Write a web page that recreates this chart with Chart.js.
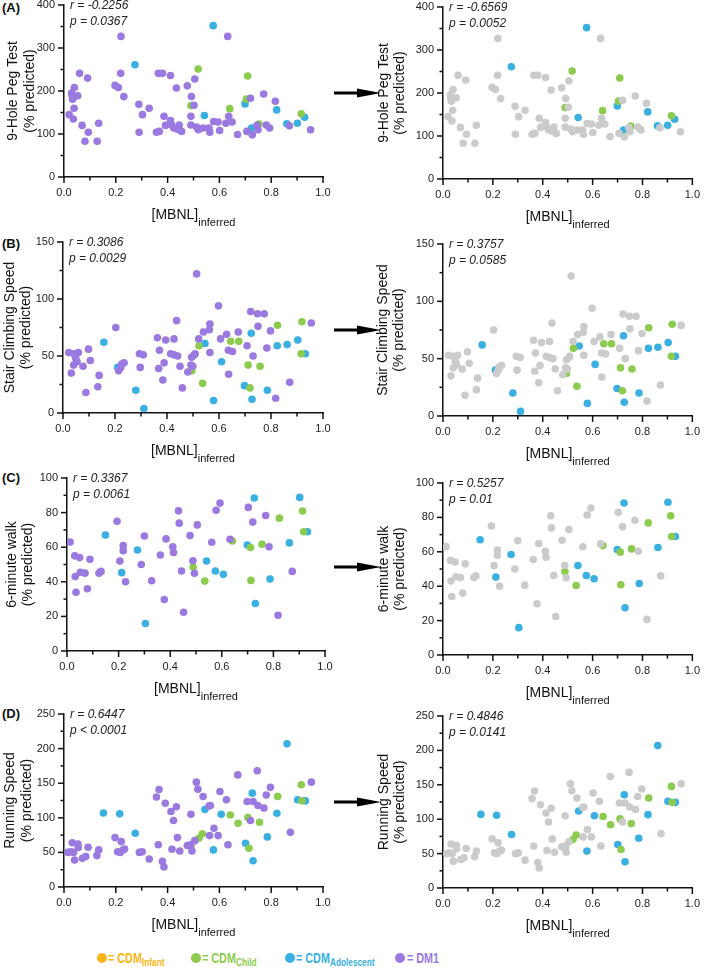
<!DOCTYPE html>
<html>
<head>
<meta charset="utf-8">
<script src="https://cdn.jsdelivr.net/npm/chart.js@4.4.0/dist/chart.umd.min.js"></script>
<style>
  body { margin: 0; width: 709px; height: 970px; position: relative; background: #fff; overflow: hidden;
         font-family: "Liberation Sans", Arial, Helvetica, sans-serif; }
  canvas { position: absolute; }
  .tag { position: absolute; left: 2px; font-weight: bold; font-size: 13px; line-height: 14px; color: #111; }
  .arrow { position: absolute; left: 334px; }
  .dot { position: absolute; width: 10px; height: 10px; border-radius: 50%; top: 953px; }
  .leg { position: absolute; top: 950px; font-size: 15px; line-height: 15px; font-weight: bold; white-space: nowrap;
         transform: scaleX(0.72); transform-origin: 0 50%; }
  .leg span { font-size: 11.5px; vertical-align: -3px; }
</style>
</head>
<body>

<div class="tag" style="top:1px">(A)</div>
<div class="tag" style="top:237px">(B)</div>
<div class="tag" style="top:471px">(C)</div>
<div class="tag" style="top:707px">(D)</div>

<svg class="arrow" style="top:86px" width="50" height="14"><path d="M0 5.6 H23 V2.5 L47 7 L23 11.5 V8.4 H0 Z" fill="#000"/></svg>
<svg class="arrow" style="top:323px" width="50" height="14"><path d="M0 5.6 H23 V2.5 L47 7 L23 11.5 V8.4 H0 Z" fill="#000"/></svg>
<svg class="arrow" style="top:560px" width="50" height="14"><path d="M0 5.6 H23 V2.5 L47 7 L23 11.5 V8.4 H0 Z" fill="#000"/></svg>
<svg class="arrow" style="top:795px" width="50" height="14"><path d="M0 5.6 H23 V2.5 L47 7 L23 11.5 V8.4 H0 Z" fill="#000"/></svg>

<div class="dot" style="left:97px;background:#fdb515"></div>
<div class="leg" style="left:108px;color:#fdb515">= CDM<span>Infant</span></div>
<div class="dot" style="left:191px;background:#8ccb4e"></div>
<div class="leg" style="left:202px;color:#8ccb4e">= CDM<span>Child</span></div>
<div class="dot" style="left:285px;background:#3ab0e2"></div>
<div class="leg" style="left:296px;color:#3ab0e2">= CDM<span>Adolescent</span></div>
<div class="dot" style="left:395px;background:#9a79e0"></div>
<div class="leg" style="left:407px;color:#9a79e0">= DM1</div>

<script>
// ---- data: [MBNL]inferred vs % predicted ----
const pegDM1 = [[0.02,145],[0.03,196],[0.04,208],[0.06,241],[0.03,191],[0.033,181],[0.04,187],[0.053,189],[0.039,160],[0.036,135],[0.07,120],[0.094,104],[0.081,83],[0.091,230],[0.128,83],[0.134,125],[0.197,213],[0.21,208],[0.22,327],[0.219,241],[0.231,187],[0.289,169],[0.29,104],[0.303,145],[0.329,160],[0.357,104],[0.368,106],[0.364,241],[0.38,241],[0.386,141],[0.392,120],[0.411,236],[0.411,131],[0.416,121],[0.424,114],[0.434,207],[0.438,111],[0.445,121],[0.454,106],[0.476,212],[0.49,141],[0.492,187],[0.49,121],[0.502,167],[0.505,228],[0.512,116],[0.519,110],[0.537,114],[0.56,114],[0.563,104],[0.578,129],[0.595,128],[0.601,108],[0.625,125],[0.632,327],[0.636,141],[0.649,128],[0.67,99],[0.706,106],[0.72,183],[0.727,98],[0.745,120],[0.749,110],[0.771,193],[0.781,121],[0.794,114],[0.816,176],[0.87,119],[0.952,110]];
const pegChild = [[0.518,251],[0.49,166],[0.709,235],[0.704,181],[0.64,159],[0.753,123],[0.916,147]];
const pegAdol = [[0.576,352],[0.274,261],[0.542,143],[0.699,170],[0.724,114],[0.821,156],[0.86,124],[0.901,125],[0.929,139]];

const stairDM1 = [[0.022,53],[0.041,52],[0.059,53],[0.049,48],[0.054,45],[0.041,42],[0.032,35],[0.077,41],[0.098,56],[0.105,46],[0.088,18],[0.134,23],[0.139,33],[0.203,75],[0.214,37],[0.222,40],[0.226,43],[0.235,44],[0.294,52],[0.297,40],[0.309,51],[0.363,66],[0.371,55],[0.368,39],[0.384,29],[0.389,44],[0.395,64],[0.414,52],[0.427,65],[0.427,51],[0.437,81],[0.441,50],[0.45,41],[0.459,22],[0.48,36],[0.492,42],[0.495,49],[0.499,41],[0.505,51],[0.508,52],[0.514,122],[0.522,65],[0.54,71],[0.563,73],[0.565,78],[0.565,53],[0.598,94],[0.606,65],[0.629,69],[0.636,55],[0.637,34],[0.652,54],[0.674,71],[0.708,59],[0.722,89],[0.731,50],[0.748,87],[0.75,76],[0.774,87],[0.784,57],[0.798,72],[0.818,13],[0.872,27],[0.955,79]];
const stairChild = [[0.523,59],[0.495,37],[0.537,26],[0.645,63],[0.676,63],[0.712,42],[0.719,22],[0.758,41],[0.825,77],[0.919,80],[0.916,52]];
const stairAdol = [[0.157,62],[0.28,20],[0.311,4],[0.546,61],[0.579,11],[0.61,45],[0.698,24],[0.724,70],[0.727,12],[0.786,20],[0.824,59],[0.862,60],[0.903,64],[0.932,52],[0.21,40]];

const walkDM1 = [[0.012,63],[0.03,55],[0.049,54],[0.032,43],[0.035,34],[0.052,45.5],[0.07,45],[0.079,36],[0.089,53],[0.124,45],[0.132,46],[0.194,75],[0.205,52],[0.218,61],[0.218,58],[0.227,40],[0.288,50],[0.3,66.5],[0.328,40.6],[0.362,55.5],[0.377,29.8],[0.384,64.8],[0.41,60.3],[0.413,56.9],[0.432,81],[0.435,73.9],[0.444,46.2],[0.452,22.4],[0.477,66.7],[0.488,52.2],[0.494,44.9],[0.505,72.9],[0.561,62.9],[0.578,81.4],[0.593,85.5],[0.632,64.6],[0.703,83],[0.72,74.5],[0.77,78.3],[0.783,60.3],[0.818,20.7],[0.873,46]];
const walkChild = [[0.489,48.5],[0.534,40.4],[0.641,63.6],[0.711,59.8],[0.713,40.8],[0.756,61.7],[0.823,76.8],[0.913,80.9],[0.917,68.9]];
const walkAdol = [[0.149,67],[0.212,45.3],[0.273,58.4],[0.304,15.9],[0.541,52],[0.575,46.2],[0.606,44.3],[0.699,61.3],[0.726,88.4],[0.73,27.5],[0.787,41.6],[0.862,62.5],[0.902,88.8],[0.932,68.9]];

const runDM1 = [[0.015,50],[0.026,51],[0.032,64],[0.037,50],[0.041,39],[0.054,62],[0.055,57],[0.071,41.5],[0.084,44],[0.093,57.4],[0.127,45.4],[0.134,53.6],[0.197,71.4],[0.207,51],[0.217,50],[0.221,65.6],[0.228,53.6],[0.234,55],[0.291,50],[0.302,51],[0.329,40.5],[0.357,130],[0.367,141],[0.364,61],[0.38,37],[0.386,29],[0.391,121],[0.413,109],[0.417,54.5],[0.423,96],[0.434,116],[0.438,71.4],[0.447,52],[0.476,60],[0.489,61],[0.49,105],[0.494,52],[0.511,151.5],[0.517,141.4],[0.505,67],[0.537,130.8],[0.56,117],[0.565,117.8],[0.562,74.3],[0.579,85],[0.595,74.3],[0.602,138],[0.627,126],[0.633,61],[0.671,162],[0.707,123.5],[0.72,96],[0.73,123.5],[0.746,168],[0.749,117.8],[0.772,114],[0.781,133],[0.797,144],[0.874,79],[0.955,151.5]];
const runChild = [[0.521,70.5],[0.534,77],[0.642,104],[0.672,92],[0.71,100.4],[0.714,56],[0.755,93.6],[0.825,130.8],[0.916,147.7],[0.919,124.5],[0.49,59]];
const runAdol = [[0.152,107],[0.215,105.7],[0.275,77.7],[0.544,112],[0.577,53.6],[0.607,105],[0.701,63.2],[0.727,135.6],[0.73,38],[0.785,72.4],[0.822,106.6],[0.861,207],[0.902,126],[0.932,124.5]];

const yTitles = [['9-Hole Peg Test', '(% predicted)'], ['Stair Climbing Speed', '(% predicted)'], ['6-minute walk', '(% predicted)'], ['Running Speed', '(% predicted)']];
const yMax = [400, 150, 100, 250];
const yMajor = [100, 50, 20, 50];
const yMinor = [50, 25, 10, 25];
const rAll = ['r = -0.2256', 'r = 0.3086', 'r = 0.3367', 'r = 0.6447'];
const pAll = ['p = 0.0367', 'p = 0.0029', 'p = 0.0061', 'p < 0.0001'];
const rCDM = ['r = -0.6569', 'r = 0.3757', 'r = 0.5257', 'r = 0.4846'];
const pCDM = ['p = 0.0052', 'p = 0.0585', 'p = 0.01', 'p = 0.0141'];

const seriesDM1 = [pegDM1, stairDM1, walkDM1, runDM1];
const seriesChild = [pegChild, stairChild, walkChild, runChild];
const seriesAdol = [pegAdol, stairAdol, walkAdol, runAdol];

// plot-area boxes in page pixels: [left, right, top, bottom, y-title x]
const boxesLeft = [[64, 323, 5, 177, 13.5], [63, 323, 242, 413, 10], [67, 325, 478, 651, 12], [64, 323, 714, 887, 10.5]];
const boxesRight = [[443, 701, 7, 179, 384], [443, 700, 244, 416, 383], [443, 701, 483, 655, 384], [443, 701, 716, 888, 384]];

const FONT = '"Liberation Sans", Arial, Helvetica, sans-serif';
const PURPLE = '#9a79e0', GREEN = '#8ccb4e', BLUE = '#3ab0e2', GRAY = '#cbcbcb';

// tick marks: long on labelled values, short on the others
function drawTicks(ctx, scale, horizontal) {
  ctx.strokeStyle = '#111';
  ctx.lineWidth = 1.5;
  scale.ticks.forEach((tk, idx) => {
    const len = tk.label !== '' ? 6 : 3.5;
    const p = scale.getPixelForTick(idx);
    ctx.beginPath();
    if (horizontal) { ctx.moveTo(p, scale.top); ctx.lineTo(p, scale.top + len); }
    else { ctx.moveTo(scale.right, p); ctx.lineTo(scale.right - len, p); }
    ctx.stroke();
  });
}

const annotate = {
  id: 'annotate',
  afterDraw(chart, args, opts) {
    const { ctx, chartArea: a } = chart;
    ctx.save();
    drawTicks(ctx, chart.scales.x, true);
    drawTicks(ctx, chart.scales.y, false);
    ctx.textBaseline = 'middle';
    ctx.textAlign = 'left';
    ctx.fillStyle = '#222';
    ctx.font = 'italic 12px ' + FONT;
    ctx.fillText(opts.r, a.left + 6, a.top + 1);
    ctx.fillText(opts.p, a.left + 6, a.top + 17);
    // x axis title with subscript
    ctx.fillStyle = '#111';
    ctx.font = '14px ' + FONT;
    const w1 = ctx.measureText('[MBNL]').width;
    ctx.font = '11px ' + FONT;
    const w2 = ctx.measureText('inferred').width;
    const x0 = (a.left + a.right) / 2 - (w1 + w2) / 2;
    ctx.font = '14px ' + FONT;
    ctx.fillText('[MBNL]', x0, a.bottom + 38);
    ctx.font = '11px ' + FONT;
    ctx.fillText('inferred', x0 + w1, a.bottom + 46);
    ctx.restore();
  }
};

function toPts(arr) { return arr.map(d => ({ x: d[0], y: d[1] })); }

function makePanel(i, right) {
  const box = right ? boxesRight[i] : boxesLeft[i];
  const [l, r, t, b, tx] = box;
  const cx = right ? 360 : 0;
  const cw = right ? 349 : 345;
  const cy = t - 20;
  const ch = (b - t) + 80;
  const xH = 25;
  const canvas = document.createElement('canvas');
  canvas.width = cw; canvas.height = ch;
  canvas.style.left = cx + 'px'; canvas.style.top = cy + 'px';
  canvas.style.width = cw + 'px'; canvas.style.height = ch + 'px';
  document.body.appendChild(canvas);

  const pt = { pointRadius: 3.8, pointBorderWidth: 0, showLine: false };
  const major = yMajor[i];
  new Chart(canvas.getContext('2d'), {
    type: 'scatter',
    data: {
      datasets: [
        { label: 'DM1', data: toPts(seriesDM1[i]), backgroundColor: right ? GRAY : PURPLE, ...pt },
        { label: 'CDM Child', data: toPts(seriesChild[i]), backgroundColor: GREEN, ...pt },
        { label: 'CDM Adolescent', data: toPts(seriesAdol[i]), backgroundColor: BLUE, ...pt }
      ]
    },
    options: {
      responsive: false,
      animation: false,
      layout: { padding: { left: 0, top: t - cy, right: cx + cw - r, bottom: ch - (b - cy) - xH } },
      plugins: {
        legend: { display: false },
        tooltip: { enabled: false },
        annotate: { r: right ? rCDM[i] : rAll[i], p: right ? pCDM[i] : pAll[i] }
      },
      scales: {
        x: {
          type: 'linear', min: 0, max: 1,
          border: { color: '#111', width: 1.5 },
          grid: { display: true, drawOnChartArea: false, drawTicks: false },
          ticks: {
            stepSize: 0.1, autoSkip: false, maxRotation: 0, padding: 9, color: '#222',
            font: { family: FONT, size: 11 },
            callback: v => (Math.round(v * 10) % 2 === 0 ? v.toFixed(1) : '')
          },
          afterFit: s => { s.height = xH; }
        },
        y: {
          type: 'linear', min: 0, max: yMax[i],
          border: { color: '#111', width: 1.5 },
          grid: { display: true, drawOnChartArea: false, drawTicks: false },
          ticks: {
            stepSize: yMinor[i], autoSkip: false, padding: 9, color: '#222',
            font: { family: FONT, size: 11 },
            callback: v => (Math.round(v) % major === 0 ? String(v) : '')
          },
          title: {
            display: true, text: yTitles[i], color: '#111',
            font: { family: FONT, size: 14, lineHeight: '16.5px' },
            padding: { top: tx - cx - 8.25, bottom: 0 }
          },
          afterFit: s => { s.width = l - cx; }
        }
      }
    },
    plugins: [annotate]
  });
}

for (let i = 0; i < 4; i++) {
  makePanel(i, false);
  makePanel(i, true);
}
</script>
</body>
</html>
